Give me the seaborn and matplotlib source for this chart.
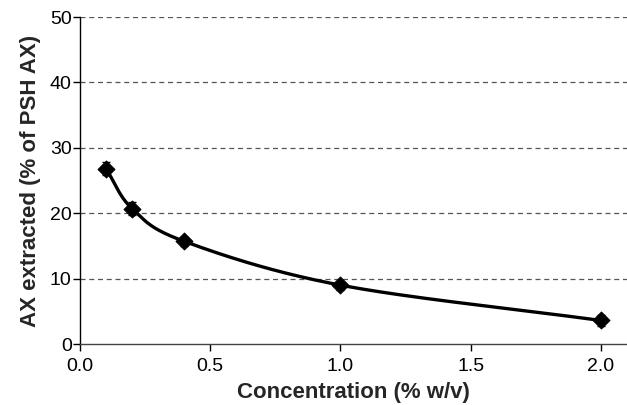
import numpy as np
import pandas as pd
import seaborn as sns
import matplotlib.pyplot as plt

# data
conc = [0.1, 0.2, 0.4, 1.0, 2.0]
ax_extracted = [26.8, 20.7, 15.7, 9.0, 3.6]
ax_err = [1.0, 1.0, 0.7, 0.7, 0.9]

df = pd.DataFrame({"conc": conc, "ax": ax_extracted, "err": ax_err})

sns.set_style("white")
plt.rcParams['font.family'] = ['Liberation Sans', 'DejaVu Sans']

fig = plt.figure(figsize=(6.27, 4.05), dpi=100)
ax = fig.add_axes([0.1276, 0.1506, 0.8724, 0.8074])

# smoothed line (Catmull-Rom through the points, like a spreadsheet "smoothed line")
def smooth(xs, ys, n=40):
    p = np.column_stack([xs, ys]).astype(float)
    p = np.vstack([p[0] - (p[1] - p[0]), p, p[-1] + (p[-1] - p[-2])])
    out = []
    t = np.linspace(0, 1, n)[:, None]
    for i in range(1, len(p) - 2):
        p0, p1, p2, p3 = p[i - 1], p[i], p[i + 1], p[i + 2]
        seg = 0.5 * ((2 * p1) + (-p0 + p2) * t + (2 * p0 - 5 * p1 + 4 * p2 - p3) * t**2
                     + (-p0 + 3 * p1 - 3 * p2 + p3) * t**3)
        out.append(seg)
    out = np.vstack(out)
    return out[:, 0], out[:, 1]

sx, sy = smooth(df["conc"], df["ax"])
sns.lineplot(x=sx, y=sy, ax=ax, color="black", linewidth=2.4, sort=False, zorder=3)

ax.errorbar(df["conc"], df["ax"], yerr=df["err"], fmt="none", ecolor="black",
            elinewidth=1.2, capsize=3, zorder=4)
sns.scatterplot(data=df, x="conc", y="ax", ax=ax, marker="D", s=75, color="black",
                edgecolor="black", zorder=5)

ax.set_xlim(0, 2.1)
ax.set_ylim(0, 50)
ax.set_xticks([0.0, 0.5, 1.0, 1.5, 2.0])
ax.set_xticklabels(["0.0", "0.5", "1.0", "1.5", "2.0"])
ax.set_yticks([0, 10, 20, 30, 40, 50])

for yv in [10, 20, 30, 40, 50]:
    ax.axhline(yv, color="#555555", linestyle=(0, (4, 3)), linewidth=0.9, zorder=1)

ax.set_xlabel("Concentration (% w/v)", fontsize=16, fontweight="bold", labelpad=5)
ax.set_ylabel("AX extracted (% of PSH AX)", fontsize=16, fontweight="bold", labelpad=6)

ax.spines["top"].set_visible(False)
ax.spines["right"].set_visible(False)
ax.spines["left"].set_color("black")
ax.spines["bottom"].set_color("#444444")
ax.spines["left"].set_linewidth(1.0)
ax.spines["bottom"].set_linewidth(1.0)
ax.tick_params(axis="both", direction="out", length=5, width=1, colors="black",
               labelsize=14, bottom=True, left=True)
ax.tick_params(axis="x", pad=5)
ax.tick_params(axis="y", pad=1)

fig.savefig("out.png", dpi=100)
